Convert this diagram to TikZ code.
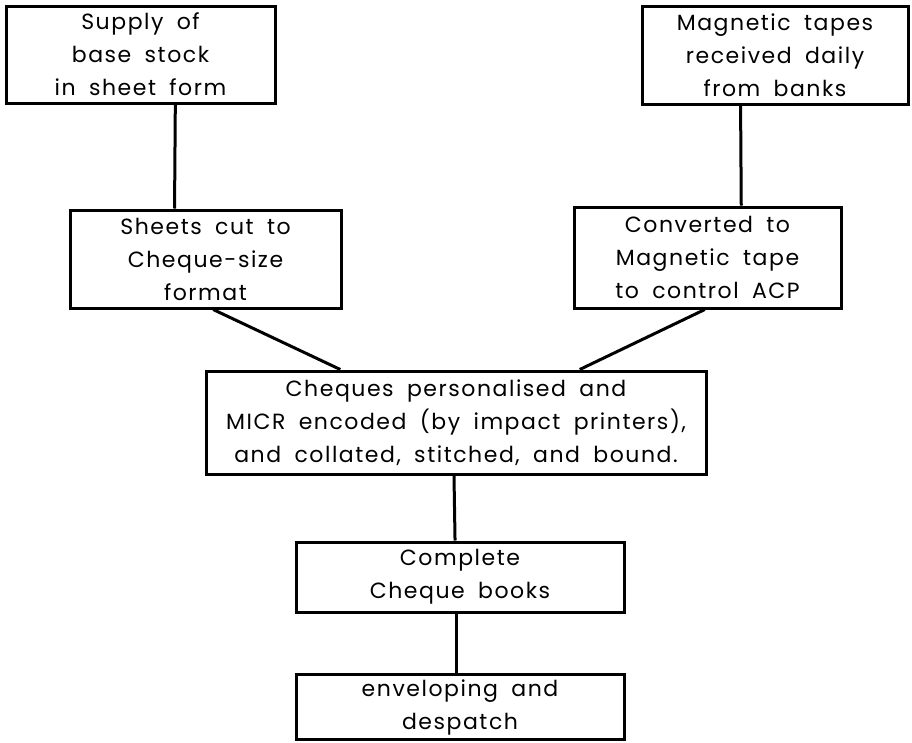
\documentclass[tikz,border=0pt]{standalone}
\usepackage{fontspec}
\setmainfont[LetterSpace=7,WordSpace=1.8]{Poppins}
\usetikzlibrary{calc}
\tikzset{
  stage/.style={draw, line width=3pt, rectangle, inner sep=0pt, align=center,
    font=\fontsize{22}{33}\selectfont},
  link/.style={line width=3pt}
}
\begin{document}
\begin{tikzpicture}[x=1pt,y=-1pt]
\useasboundingbox (0,0) rectangle (912,742);
% process stages
\node[stage, minimum width=269pt, minimum height=97pt] (b1) at (140.5,54.5)
  {Supply of\\base stock\\in sheet form};
\node[stage, minimum width=266pt, minimum height=98pt] (b2) at (775,55)
  {Magnetic tapes\\received daily\\from banks};
\node[stage, minimum width=271pt, minimum height=98pt] (b3) at (205.5,259)
  {Sheets cut to\\Cheque-size\\format};
\node[stage, minimum width=267pt, minimum height=101pt] (b4) at (707.5,257.5)
  {Converted to\\Magnetic tape\\to control ACP};
\node[stage, minimum width=500pt, minimum height=103pt] (b5) at (456,422.5)
  {Cheques personalised and\\MICR encoded (by impact printers),\\and collated, stitched, and bound.};
\node[stage, minimum width=328pt, minimum height=70pt] (b6) at (460,577)
  {Complete\\Cheque books};
\node[stage, minimum width=328pt, minimum height=65pt] (b7) at (460,707)
  {enveloping and\\despatch};
% connectors
\draw[link] ($(b1.south west)!0.628!(b1.south east)$) -- ($(b3.north west)!0.387!(b3.north east)$);
\draw[link] ($(b2.south west)!0.372!(b2.south east)$) -- ($(b4.north west)!0.625!(b4.north east)$);
\draw[link] ($(b3.south west)!0.528!(b3.south east)$) -- ($(b5.north west)!0.27!(b5.north east)$);
\draw[link] ($(b4.south west)!0.49!(b4.south east)$) -- ($(b5.north west)!0.746!(b5.north east)$);
\draw[link] ($(b5.south west)!0.496!(b5.south east)$) -- ($(b6.north west)!0.485!(b6.north east)$);
\draw[link] ($(b6.south west)!0.49!(b6.south east)$) -- ($(b7.north west)!0.49!(b7.north east)$);
\end{tikzpicture}
\end{document}
